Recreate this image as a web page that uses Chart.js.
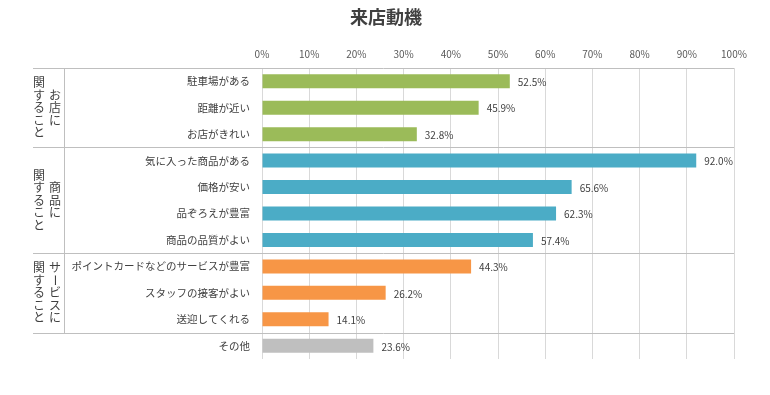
<!DOCTYPE html>
<html>
<head>
<meta charset="utf-8">
<script src="https://cdn.jsdelivr.net/npm/chart.js@4.4.0/dist/chart.umd.min.js"></script>
<style>
  html, body { margin: 0; padding: 0; background: #fff; }
  #wrap { width: 770px; height: 395px; }
</style>
</head>
<body>
<div id="wrap"><canvas id="chart" width="770" height="395"></canvas></div>
<script>
// Datos del gráfico
const titleText = "来店動機";
const categories = [
  "駐車場がある", "距離が近い", "お店がきれい",
  "気に入った商品がある", "価格が安い", "品ぞろえが豊富", "商品の品質がよい",
  "ポイントカードなどのサービスが豊富", "スタッフの接客がよい", "送迎してくれる",
  "その他"
];
const values = [52.5, 45.9, 32.8, 92.0, 65.6, 62.3, 57.4, 44.3, 26.2, 14.1, 23.6];
const barColors = [
  "#9BBB59", "#9BBB59", "#9BBB59",
  "#4BACC6", "#4BACC6", "#4BACC6", "#4BACC6",
  "#F79646", "#F79646", "#F79646",
  "#BFBFBF"
];
// grupos: primer índice, último índice, columna derecha, columna izquierda
const groupStart = [0, 3, 7];
const groupEnd = [2, 6, 9];
const groupRight = ["お店に", "商品に", "サービスに"];
const groupLeft = ["関すること", "関すること", "関すること"];
const tickValues = [0, 10, 20, 30, 40, 50, 60, 70, 80, 90, 100];

const FONT = "'Noto Sans CJK JP', 'Noto Sans', sans-serif";

// Título centrado en todo el lienzo
const titlePlugin = {
  id: "titlePlugin",
  afterDraw(chart) {
    const ctx = chart.ctx;
    ctx.save();
    ctx.font = "bold 18px " + FONT;
    ctx.fillStyle = "#404040";
    ctx.textAlign = "center";
    ctx.textBaseline = "middle";
    ctx.fillText(titleText, 386, 17);
    ctx.restore();
  }
};

// Etiquetas de valor al final de cada barra
const valueLabels = {
  id: "valueLabels",
  afterDatasetsDraw(chart) {
    const ctx = chart.ctx;
    const meta = chart.getDatasetMeta(0);
    ctx.save();
    ctx.font = "10px " + FONT;
    ctx.fillStyle = "#404040";
    ctx.textBaseline = "middle";
    ctx.textAlign = "left";
    meta.data.forEach((bar, i) => {
      ctx.fillText(values[i].toFixed(1) + "%", bar.x + 8, bar.y + 1);
    });
    ctx.restore();
  }
};

// Líneas de grupo y texto vertical
const groupLines = {
  id: "groupLines",
  beforeDatasetsDraw(chart) {
    const ctx = chart.ctx;
    const y = chart.scales.y;
    const area = chart.chartArea;
    const left = 33;
    const boundary = (i) => (y.getPixelForValue(i) + y.getPixelForValue(i + 1)) / 2;
    ctx.save();
    ctx.strokeStyle = "#BFBFBF";
    ctx.lineWidth = 1;
    const lines = [area.top];
    groupEnd.forEach((e) => lines.push(boundary(e)));
    lines.forEach((ly) => {
      const py = Math.round(ly) + 0.5;
      ctx.beginPath();
      ctx.moveTo(left, py);
      ctx.lineTo(area.right, py);
      ctx.stroke();
    });
    // línea vertical separando grupos y categorías
    ctx.beginPath();
    ctx.moveTo(64.5, Math.round(area.top));
    ctx.lineTo(64.5, Math.round(boundary(groupEnd[groupEnd.length - 1])));
    ctx.stroke();

    // texto vertical
    ctx.font = "12px " + FONT;
    ctx.fillStyle = "#404040";
    ctx.textAlign = "center";
    ctx.textBaseline = "middle";
    const step = 12.5;
    const drawVertical = (text, x, cy) => {
      const chars = Array.from(text);
      const y0 = cy - (step * (chars.length - 1)) / 2;
      chars.forEach((ch, k) => {
        const py = y0 + k * step;
        if (ch === "ー") {
          ctx.save();
          ctx.translate(x, py);
          ctx.rotate(Math.PI / 2);
          ctx.fillText(ch, 0, 0);
          ctx.restore();
        } else {
          ctx.fillText(ch, x, py);
        }
      });
    };
    groupStart.forEach((s, g) => {
      const top = g === 0 ? area.top : boundary(s - 1);
      const bottom = boundary(groupEnd[g]);
      const cy = (top + bottom) / 2;
      drawVertical(groupRight[g], 55, cy);
      drawVertical(groupLeft[g], 39, cy);
    });
    ctx.restore();
  }
};

new Chart(document.getElementById("chart"), {
  type: "bar",
  data: {
    labels: categories,
    datasets: [{
      data: values,
      backgroundColor: barColors,
      borderWidth: 0,
      barPercentage: 0.53,
      categoryPercentage: 1
    }]
  },
  options: {
    indexAxis: "y",
    responsive: false,
    animation: false,
    layout: { padding: { left: 0, right: 36, top: 36, bottom: 36 } },
    plugins: {
      legend: { display: false },
      tooltip: { enabled: false },
      title: { display: false }
    },
    scales: {
      x: {
        position: "top",
        min: 0,
        max: 100,
        afterBuildTicks(scale) {
          scale.ticks = tickValues.map((v) => ({ value: v }));
        },
        afterFit(scale) { scale.height = 32; },
        grid: { color: "#D9D9D9", drawTicks: false },
        border: { display: false },
        ticks: {
          color: "#595959",
          font: { family: FONT, size: 10 },
          padding: 8,
          callback: (v) => v + "%"
        }
      },
      y: {
        afterFit(scale) { scale.width = 262; },
        grid: { display: false },
        border: { display: false },
        ticks: {
          color: "#404040",
          font: { family: FONT, size: 10.5 },
          padding: 4,
          autoSkip: false
        }
      }
    }
  },
  plugins: [groupLines, valueLabels, titlePlugin]
});
</script>
</body>
</html>
